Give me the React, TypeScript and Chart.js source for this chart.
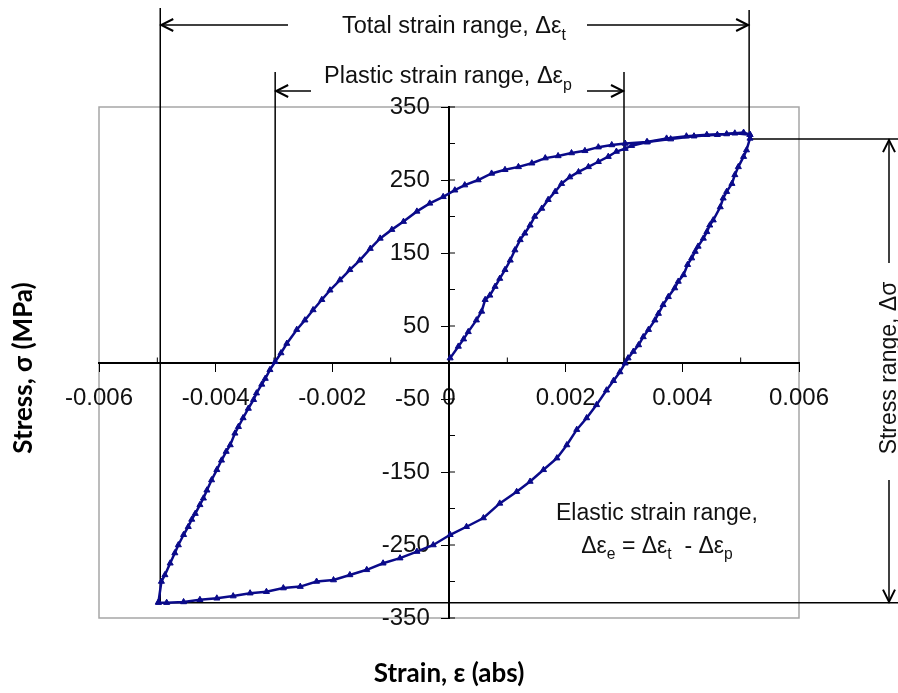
import React, { useEffect, useRef } from 'react';
import { Chart, registerables } from 'chart.js';

Chart.register(...registerables);

// ---- Data (strain in abs, stress in MPa) ----
const initialStrain = [0.00002, 0.00016, 0.00025, 0.00033, 0.00047, 0.00056, 0.00062, 0.0007, 0.00079, 0.00087, 0.00096, 0.00105, 0.00113, 0.00122, 0.0013, 0.00139, 0.00147, 0.00159, 0.0017, 0.00182, 0.00193, 0.00207, 0.00222, 0.00239, 0.00256, 0.00273, 0.00287, 0.00302, 0.00313, 0.0034, 0.0038, 0.0042, 0.0046, 0.0049, 0.00516];
const initialStress = [6, 22, 32, 42, 58, 70, 86, 92, 104, 115, 127, 140, 154, 168, 177, 188, 200, 211, 223, 234, 245, 254, 261, 268, 275, 282, 289, 293, 297, 302, 306, 310, 312, 314, 312];

const unloadStrain = [0.00516, 0.0051, 0.00505, 0.00496, 0.0049, 0.00485, 0.00476, 0.0047, 0.00465, 0.00453, 0.00447, 0.00442, 0.00436, 0.00427, 0.00422, 0.00416, 0.00409, 0.00402, 0.00393, 0.00387, 0.00376, 0.00367, 0.00359, 0.00353, 0.00342, 0.00333, 0.00325, 0.00316, 0.00307, 0.00302, 0.00293, 0.00282, 0.0027, 0.00253, 0.00236, 0.00219, 0.00202, 0.00185, 0.00162, 0.00139, 0.00116, 0.00087, 0.00059, 0.0003, 0.00002, -0.00027, -0.00055, -0.00084, -0.00113, -0.00141, -0.0017, -0.00198, -0.00227, -0.00255, -0.00284, -0.00313, -0.00341, -0.0037, -0.00398, -0.00427, -0.00455, -0.00484, -0.00498];
const unloadStress = [307, 291, 282, 268, 257, 245, 234, 225, 213, 195, 188, 179, 170, 159, 152, 143, 134, 120, 111, 102, 90, 79, 67, 58, 45, 35, 24, 15, 6, -1, -13, -25, -38, -58, -76, -92, -113, -131, -147, -163, -177, -193, -213, -225, -236, -250, -259, -268, -275, -284, -291, -298, -300, -307, -309, -314, -316, -320, -323, -325, -328, -329, -329];

const reloadStrain = [-0.00498, -0.00493, -0.00487, -0.00478, -0.0047, -0.00464, -0.00455, -0.00447, -0.00441, -0.00435, -0.00427, -0.00421, -0.00415, -0.00407, -0.00398, -0.0039, -0.00382, -0.00375, -0.00367, -0.00361, -0.00353, -0.00344, -0.00335, -0.0033, -0.00321, -0.00315, -0.00307, -0.00298, -0.00288, -0.00278, -0.00261, -0.00247, -0.00233, -0.00218, -0.00204, -0.00187, -0.0017, -0.00153, -0.00135, -0.00118, -0.00098, -0.00078, -0.00055, -0.00033, -0.0001, 0.0001, 0.00027, 0.0005, 0.00073, 0.00096, 0.00119, 0.00142, 0.00165, 0.00187, 0.0021, 0.00233, 0.00256, 0.00279, 0.00302, 0.00339, 0.00373, 0.00407, 0.00442, 0.00476, 0.00505, 0.00516];
const reloadStress = [-328, -300, -291, -275, -261, -250, -236, -225, -215, -207, -195, -186, -175, -161, -147, -134, -122, -113, -97, -88, -76, -63, -51, -42, -30, -22, -10, 1, 13, 26, 45, 58, 72, 86, 99, 113, 127, 140, 156, 170, 182, 193, 207, 218, 227, 236, 243, 250, 259, 264, 268, 273, 280, 283, 287, 290, 295, 298, 300, 302, 307, 310, 312, 313, 315, 312];

// ---- Axis ranges / ticks ----
const strainMin = -0.006;
const strainMax = 0.006;
const strainStep = 0.002;
const stressMin = -350;
const stressMax = 350;
const stressStep = 100;

// ---- Annotation values ----
const totalStrainEnds = [-0.00495, 0.005145];
const plasticStrainEnds = [-0.00298, 0.003];
const stressRangeEnds = [-329, 306];
const yLabelStrain = -0.00033;

const SANS = '"Liberation Sans", Arial, sans-serif';
const TITLE = 'Lato, "Open Sans", sans-serif';
const CURVE = '#0a0a8a';
const TEXT = '#111';

const toPoints = (xs: number[], ys: number[]) => xs.map((x, i) => ({ x, y: ys[i] }));

function line(ctx: CanvasRenderingContext2D, x1: number, y1: number, x2: number, y2: number) {
  ctx.beginPath();
  ctx.moveTo(x1, y1);
  ctx.lineTo(x2, y2);
  ctx.stroke();
}

function head(ctx: CanvasRenderingContext2D, x: number, y: number, dir: string) {
  const L = 12, H = 6;
  ctx.beginPath();
  if (dir === 'left') { ctx.moveTo(x + L, y - H); ctx.lineTo(x, y); ctx.lineTo(x + L, y + H); }
  if (dir === 'right') { ctx.moveTo(x - L, y - H); ctx.lineTo(x, y); ctx.lineTo(x - L, y + H); }
  if (dir === 'up') { ctx.moveTo(x - H, y + L); ctx.lineTo(x, y); ctx.lineTo(x + H, y + L); }
  if (dir === 'down') { ctx.moveTo(x - H, y - L); ctx.lineTo(x, y); ctx.lineTo(x + H, y - L); }
  ctx.stroke();
}

function rich(ctx: CanvasRenderingContext2D, parts: [string, boolean][], x: number, y: number, size: number, align: string) {
  const sub = size * 0.68;
  const widths = parts.map(([t, s]) => {
    ctx.font = `${s ? sub : size}px ${SANS}`;
    return ctx.measureText(t).width;
  });
  const total = widths.reduce((a, b) => a + b, 0);
  let cx = align === 'center' ? x - total / 2 : x;
  ctx.textAlign = 'left';
  ctx.textBaseline = 'alphabetic';
  parts.forEach(([t, s], i) => {
    ctx.font = `${s ? sub : size}px ${SANS}`;
    ctx.fillText(t, cx, s ? y + size * 0.28 : y);
    cx += widths[i];
  });
}

const decor = {
  id: 'decor',
  beforeDraw(chart: any) {
    const { ctx, chartArea: a } = chart;
    ctx.save();
    ctx.fillStyle = '#fff';
    ctx.fillRect(0, 0, chart.width, chart.height);
    ctx.strokeStyle = '#a6a6a6';
    ctx.lineWidth = 1.5;
    ctx.strokeRect(a.left, a.top, a.right - a.left, a.bottom - a.top);
    ctx.restore();
  },
  beforeDatasetsDraw(chart: any) {
    const { ctx, scales } = chart;
    const x = scales.x, y = scales.y;
    const x0 = x.getPixelForValue(0), y0 = y.getPixelForValue(0);
    ctx.save();
    ctx.strokeStyle = '#000';
    ctx.lineWidth = 1;
    const xt = x.ticks.map((t: any) => t.value);
    for (let i = 0; i < xt.length - 1; i++) {
      const px = x.getPixelForValue((xt[i] + xt[i + 1]) / 2);
      line(ctx, px, y0 - 5, px, y0);
    }
    const yt = y.ticks.map((t: any) => t.value);
    yt.forEach((v: number, i: number) => {
      const py = y.getPixelForValue(v);
      line(ctx, x0, py, x0 + 6, py);
      if (i < yt.length - 1) {
        const pm = y.getPixelForValue((v + yt[i + 1]) / 2);
        line(ctx, x0, pm, x0 + 6, pm);
      }
    });
    // annotation guide lines
    ctx.lineWidth = 1.5;
    const xl = x.getPixelForValue(totalStrainEnds[0]);
    const xr = x.getPixelForValue(totalStrainEnds[1]);
    const pl = x.getPixelForValue(plasticStrainEnds[0]);
    const pr = x.getPixelForValue(plasticStrainEnds[1]);
    const yb = y.getPixelForValue(stressRangeEnds[0]);
    const ytp = y.getPixelForValue(stressRangeEnds[1]);
    line(ctx, xl, 8, xl, yb);
    line(ctx, xl, yb, chart.width, yb);
    line(ctx, xr, 10, xr, ytp);
    line(ctx, xr, ytp, chart.width, ytp);
    line(ctx, pl, 72, pl, y0);
    line(ctx, pr, 72, pr, y0);
    ctx.restore();
  },
  afterDraw(chart: any) {
    const { ctx, scales } = chart;
    const x = scales.x, y = scales.y;
    const xl = x.getPixelForValue(totalStrainEnds[0]);
    const xr = x.getPixelForValue(totalStrainEnds[1]);
    const pl = x.getPixelForValue(plasticStrainEnds[0]);
    const pr = x.getPixelForValue(plasticStrainEnds[1]);
    const yb = y.getPixelForValue(stressRangeEnds[0]);
    const ytp = y.getPixelForValue(stressRangeEnds[1]);
    ctx.save();
    ctx.strokeStyle = '#000';
    ctx.fillStyle = TEXT;
    ctx.lineWidth = 1.5;
    // total strain range
    line(ctx, xl, 25, 288, 25);
    line(ctx, 587, 25, xr, 25);
    ctx.lineWidth = 2;
    head(ctx, xl + 1, 25, 'left');
    head(ctx, xr - 1, 25, 'right');
    rich(ctx, [['Total strain range, \u0394\u03b5', false], ['t', true]], 342, 33, 23.5, 'left');
    // plastic strain range
    ctx.lineWidth = 1.5;
    line(ctx, pl, 91, 311, 91);
    line(ctx, 587, 91, pr, 91);
    ctx.lineWidth = 2;
    head(ctx, pl + 1, 91, 'left');
    head(ctx, pr - 1, 91, 'right');
    rich(ctx, [['Plastic strain range, \u0394\u03b5', false], ['p', true]], 324, 83, 23.5, 'left');
    // stress range
    ctx.lineWidth = 1.5;
    line(ctx, 889, ytp, 889, 263);
    line(ctx, 889, 480, 889, yb);
    ctx.lineWidth = 2;
    head(ctx, 889, ytp + 1, 'up');
    head(ctx, 889, yb - 1, 'down');
    ctx.save();
    ctx.translate(888, 368);
    ctx.rotate(-Math.PI / 2);
    rich(ctx, [['Stress range, \u0394\u03c3', false]], 0, 8, 23, 'center');
    ctx.restore();
    // elastic strain range
    rich(ctx, [['Elastic strain range,', false]], 657, 520, 23, 'center');
    rich(ctx, [['\u0394\u03b5', false], ['e', true], [' = \u0394\u03b5', false], ['t', true], ['  - \u0394\u03b5', false], ['p', true]], 657, 553, 23, 'center');
    // axis titles
    ctx.fillStyle = '#000';
    ctx.font = `bold 26px ${TITLE}`;
    ctx.textAlign = 'center';
    ctx.textBaseline = 'middle';
    ctx.fillText('Strain, \u03b5 (abs)', 449, 674);
    ctx.save();
    ctx.translate(24, 368);
    ctx.rotate(-Math.PI / 2);
    ctx.fillText('Stress, \u03c3 (MPa)', 0, 0);
    ctx.restore();
    ctx.restore();
  },
};

const seriesStyle = {
  showLine: true,
  borderColor: CURVE,
  borderWidth: 2.5,
  backgroundColor: CURVE,
  pointStyle: 'triangle',
  pointRadius: 3.5,
  pointBorderWidth: 1,
  pointBorderColor: CURVE,
  pointBackgroundColor: CURVE,
  tension: 0,
};

export default function App() {
  const ref = useRef<HTMLCanvasElement>(null);
  useEffect(() => {
    const fmtStrain = (v: any) => (Math.abs(Number(v)) < 1e-12 ? '0' : Number(v).toFixed(3));
    const chart = new Chart(ref.current as HTMLCanvasElement, {
      type: 'scatter',
      data: {
        datasets: [
          { label: 'Initial loading', data: toPoints(initialStrain, initialStress), ...seriesStyle },
          { label: 'Unloading', data: toPoints(unloadStrain, unloadStress), ...seriesStyle },
          { label: 'Reloading', data: toPoints(reloadStrain, reloadStress), ...seriesStyle },
        ] as any,
      },
      options: {
        animation: false,
        responsive: false,
        devicePixelRatio: 1,
        layout: { padding: { left: 99, right: 99, top: 107, bottom: 75 } },
        plugins: { legend: { display: false }, tooltip: { enabled: false }, title: { display: false } },
        scales: {
          x: {
            type: 'linear',
            min: strainMin,
            max: strainMax,
            position: { y: 0 } as any,
            border: { display: true, color: '#000', width: 2 },
            grid: { display: true, drawOnChartArea: false, drawTicks: true, tickLength: 8, color: '#000', lineWidth: 1 },
            ticks: {
              stepSize: strainStep,
              autoSkip: false,
              maxRotation: 0,
              padding: 13,
              color: TEXT,
              font: { family: SANS, size: 24 },
              callback: fmtStrain,
            },
          },
          y: {
            type: 'linear',
            min: stressMin,
            max: stressMax,
            position: { x: 0 } as any,
            border: { display: true, color: '#000', width: 2 },
            grid: { display: true, drawOnChartArea: false, drawTicks: true, tickLength: 7, color: '#000', lineWidth: 1 },
            ticks: { stepSize: stressStep, display: false },
          },
          yl: {
            type: 'linear',
            min: stressMin,
            max: stressMax,
            position: { x: yLabelStrain } as any,
            border: { display: false },
            grid: { display: false, drawTicks: false },
            ticks: {
              stepSize: stressStep,
              padding: 0,
              color: TEXT,
              font: { family: SANS, size: 24 },
              callback: (v: any) => String(v),
            },
          },
        },
      } as any,
      plugins: [decor as any],
    });
    return () => chart.destroy();
  }, []);
  return (
    <div style={{ position: 'absolute', left: 0, top: 0, width: 898, height: 693, background: '#fff' }}>
      <canvas ref={ref} width={898} height={693} style={{ display: 'block', width: 898, height: 693 }} />
    </div>
  );
}
